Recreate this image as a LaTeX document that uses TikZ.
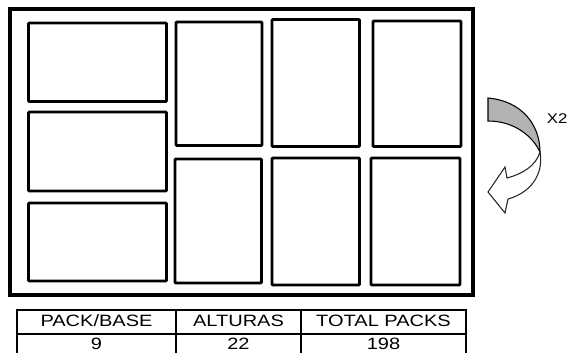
\documentclass[tikz,border=0pt]{standalone}
\usepackage{fontspec}
\setmainfont{Liberation Sans}
\begin{document}
\begin{tikzpicture}[x=0.75pt,y=-0.75pt,
  frame/.style={draw=black,line width=3pt},
  packbox/.style={draw=black,line width=2.2pt,rounded corners=0.8pt},
  tabline/.style={draw=black,line width=1.2pt},
  tabtext/.style={font=\fontsize{12.3pt}{14pt}\selectfont,text=black,xscale=1.22,anchor=base,inner sep=0pt},
  bandfill/.style={draw=black,line width=0.8pt,fill=black!30},
  arrowfill/.style={draw=black!85,line width=0.8pt,fill=white}]
\useasboundingbox (0,0) rectangle (572,353);
% outer frame
\draw[frame] (9.5,9.5) rectangle (473,295);
% left column
\draw[packbox] (28.5,23) rectangle (166.5,101.5);
\draw[packbox] (28.5,112) rectangle (166.5,191);
\draw[packbox] (28.5,203) rectangle (166.5,281);
% column 2
\draw[packbox] (176,22) rectangle (262,145.5);
\draw[packbox] (175,159) rectangle (261.5,283);
% column 3
\draw[packbox] (272,19.5) rectangle (359.5,146.5);
\draw[packbox] (272,158) rectangle (359.5,285);
% column 4
\draw[packbox] (373,21) rectangle (461,146.5);
\draw[packbox] (371,158) rectangle (460,285);
% rotation arrow
\draw[bandfill] (488,98) .. controls (522,101) and (540,125) .. (540,152)
  .. controls (532,135) and (513,121) .. (488,121) -- cycle;
\draw[arrowfill] (540,152) .. controls (544,175) and (530,193) .. (508,199)
  -- (505,213) -- (488,192) -- (505,167) -- (507,178)
  .. controls (522,174) and (536,166) .. (540,152) -- cycle;
\node[font=\fontsize{10.5pt}{12pt}\selectfont,text=black,xscale=1.2,anchor=base west,inner sep=0pt] (times) at (546.5,123) {X2};
% table
\draw[tabline] (17,353) -- (17,310) -- (466,310) -- (466,353);
\draw[tabline] (17,334) -- (466,334);
\draw[tabline] (176,310) -- (176,353);
\draw[tabline] (301,310) -- (301,353);
\node[tabtext] (h1) at (96.5,326.5) {PACK/BASE};
\node[tabtext] (h2) at (238.5,326.5) {ALTURAS};
\node[tabtext] (h3) at (383.5,326.5) {TOTAL PACKS};
\node[tabtext] (v1) at (96.5,349.5) {9};
\node[tabtext] (v2) at (238.5,349.5) {22};
\node[tabtext] (v3) at (383.5,349.5) {198};
\end{tikzpicture}
\end{document}
